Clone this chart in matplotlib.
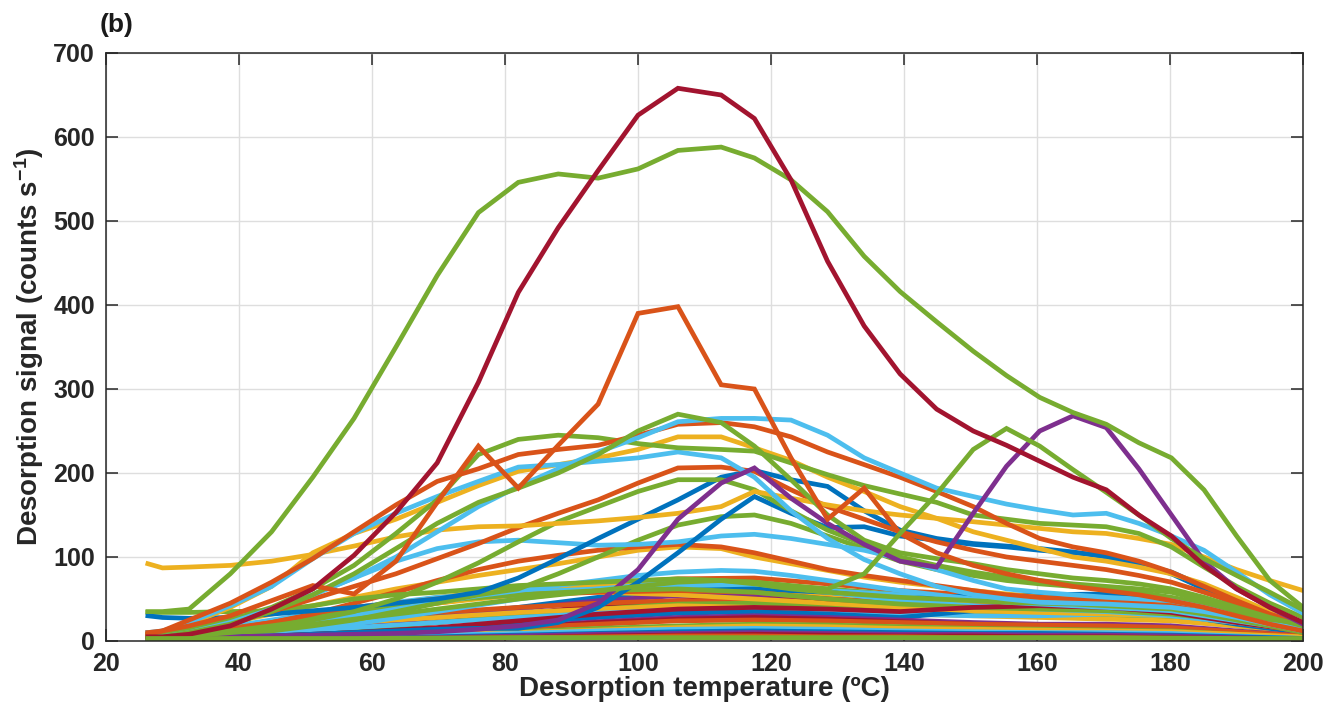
import matplotlib
matplotlib.use("Agg")
import matplotlib.pyplot as plt

plt.rcParams['font.family'] = ['Liberation Sans', 'DejaVu Sans']
plt.rcParams['font.weight'] = 'bold'
plt.rcParams['mathtext.fontset'] = 'custom'
plt.rcParams['mathtext.rm'] = 'Liberation Sans:bold'
plt.rcParams['mathtext.bf'] = 'Liberation Sans:bold'
plt.rcParams['mathtext.default'] = 'bf'

# MATLAB default colour order
BLUE = (0.000, 0.447, 0.741)
ORANGE = (0.850, 0.325, 0.098)
YELLOW = (0.929, 0.694, 0.125)
PURPLE = (0.494, 0.184, 0.556)
GREEN = (0.466, 0.674, 0.188)
LBLUE = (0.301, 0.745, 0.933)
DRED = (0.635, 0.078, 0.184)

# temperature grid of the main curves (deg C)
temp = [26.3, 28.5, 32.5, 38.7, 44.9, 51.1, 57.3, 63.6, 69.8, 76.0, 82.0,
        88.0, 94.0, 100.0, 106.0, 112.5, 117.5, 123.0, 128.5, 134.0, 139.4,
        144.9, 150.4, 155.4, 160.4, 165.4, 170.4, 175.3, 180.2, 185.1, 190.0,
        195.0, 200.0]

# coarser temperature grid of the small curves
temp_low = [26.3, 32.5, 44.9, 57.3, 69.8, 82.0, 94.0, 106.0, 117.5, 128.5,
            139.4, 150.4, 160.4, 170.4, 180.2, 190.0, 200.0]

# main curves (counts s^-1)
red_big = [5, 5, 8, 18, 38, 62, 102, 153, 212, 308, 415, 492, 560, 626, 658, 650, 622,
           549, 452, 375, 318, 276, 250, 233, 214, 195, 180, 150, 125, 90, 62, 40, 22]
green_big = [35, 35, 38, 80, 130, 195, 265, 350, 435, 510, 546, 556, 551, 562, 584, 588,
             575, 549, 511, 458, 416, 380, 345, 316, 290, 272, 258, 236, 218, 180, 125, 72, 40]
orange_zig = [10, 12, 18, 30, 48, 66, 56, 95, 165, 232, 182, 233, 282, 390, 398, 305, 300,
              218, 145, 182, 128, 105, 90, 80, 72, 65, 60, 55, 48, 40, 30, 20, 12]
purple_hi = [3, 3, 4, 5, 6, 7, 8, 9, 11, 14, 18, 25, 45, 85, 145, 188, 206, 170, 140, 115,
             95, 88, 152, 208, 250, 268, 254, 205, 150, 95, 62, 40, 20]
lblue_1 = [3, 5, 10, 22, 38, 55, 75, 100, 130, 160, 184, 205, 225, 242, 261, 265, 265, 263,
           245, 218, 200, 182, 172, 163, 156, 150, 152, 140, 125, 108, 82, 55, 33]
lblue_2 = [10, 12, 22, 42, 65, 98, 128, 152, 172, 190, 207, 210, 214, 218, 225, 218, 195,
           155, 122, 97, 80, 65, 55, 50, 46, 45, 44, 42, 40, 35, 28, 20, 15]
green_270 = [3, 5, 10, 20, 35, 55, 80, 110, 140, 165, 182, 200, 222, 250, 270, 260, 232,
             192, 150, 120, 105, 98, 92, 85, 80, 75, 72, 68, 62, 52, 40, 28, 18]
green_flat = [8, 10, 15, 25, 40, 62, 90, 128, 168, 222, 240, 245, 242, 235, 230, 228, 226,
              212, 198, 185, 175, 165, 150, 145, 140, 138, 136, 128, 112, 88, 65, 45, 28]
orange_260 = [8, 12, 25, 45, 70, 98, 130, 162, 190, 205, 222, 228, 233, 245, 258, 260, 255,
              243, 225, 210, 195, 178, 160, 140, 122, 112, 105, 95, 82, 65, 48, 32, 20]
yellow_245 = [5, 8, 20, 40, 65, 105, 128, 145, 165, 185, 202, 210, 218, 228, 243, 243, 230,
              215, 195, 178, 160, 146, 130, 120, 110, 100, 95, 88, 80, 68, 52, 35, 22]
yellow_flat = [92, 87, 88, 90, 95, 103, 113, 124, 132, 136, 137, 140, 143, 147, 152, 160,
               178, 170, 162, 155, 150, 146, 142, 138, 134, 130, 128, 122, 115, 100, 85, 72, 60]
blue_205 = [30, 28, 27, 28, 32, 36, 40, 45, 50, 58, 75, 98, 122, 145, 168, 195, 203, 192,
            184, 155, 132, 122, 116, 113, 110, 106, 100, 92, 82, 65, 45, 28, 15]
blue_172 = [3, 3, 4, 5, 6, 8, 10, 12, 14, 15, 15, 22, 40, 70, 105, 145, 172, 152, 135, 136,
            125, 120, 115, 112, 108, 105, 102, 92, 80, 62, 42, 25, 12]
green_35 = [34, 34, 34, 35, 36, 42, 50, 55, 58, 62, 66, 68, 70, 72, 74, 72, 68, 62, 58, 55,
            52, 50, 48, 46, 45, 44, 42, 40, 38, 32, 25, 18, 10]
lblue_120 = [5, 8, 15, 25, 38, 55, 75, 95, 110, 118, 120, 117, 114, 115, 118, 125, 127, 122,
             115, 108, 98, 85, 72, 62, 58, 55, 52, 50, 48, 40, 30, 20, 12]
orange_207 = [5, 7, 12, 22, 35, 50, 65, 80, 98, 116, 135, 152, 168, 188, 206, 207, 202, 180,
              160, 145, 130, 118, 108, 100, 95, 90, 85, 78, 70, 58, 45, 30, 18]
green_192 = [3, 5, 8, 12, 18, 25, 35, 50, 70, 93, 118, 142, 160, 178, 192, 192, 180, 155,
             132, 115, 100, 90, 82, 76, 72, 68, 65, 62, 58, 48, 35, 25, 15]
green_150 = [2, 3, 5, 8, 12, 18, 25, 35, 45, 55, 62, 80, 100, 120, 138, 148, 150, 140, 125,
             110, 95, 85, 78, 72, 68, 65, 62, 58, 52, 45, 35, 25, 15]
green_late = [3, 4, 6, 10, 14, 20, 26, 32, 38, 44, 50, 55, 60, 65, 70, 72, 70, 65, 62, 80,
              128, 175, 228, 253, 232, 204, 177, 150, 122, 98, 78, 58, 37]
orange_115 = [4, 5, 8, 14, 22, 32, 45, 58, 72, 85, 95, 102, 108, 112, 115, 112, 105, 95, 85,
              78, 72, 66, 60, 55, 52, 50, 48, 45, 42, 36, 28, 18, 10]
yellow_112 = [6, 8, 14, 22, 32, 42, 52, 62, 70, 78, 85, 92, 100, 108, 112, 110, 100, 92, 84,
              76, 70, 65, 60, 56, 52, 50, 48, 46, 42, 36, 28, 20, 12]
lblue_84 = [3, 4, 6, 10, 15, 22, 30, 38, 46, 54, 60, 66, 72, 78, 82, 84, 83, 78, 72, 66, 60,
            55, 50, 46, 44, 42, 40, 38, 36, 30, 24, 18, 12]

# small curves (coarser grid)
low_01 = [6, 9, 20, 32, 45, 58, 68, 74, 75, 68, 60, 55, 50, 47, 40, 28, 15]
low_02 = [4, 8, 18, 30, 46, 60, 68, 72, 70, 62, 55, 48, 45, 42, 38, 28, 16]
low_03 = [8, 12, 22, 35, 52, 62, 66, 68, 62, 55, 50, 46, 42, 40, 36, 26, 14]
low_04 = [5, 10, 25, 40, 52, 58, 62, 65, 64, 60, 55, 50, 46, 44, 40, 30, 18]
low_05 = [4, 6, 12, 20, 30, 40, 52, 60, 62, 58, 50, 54, 55, 56, 45, 30, 15]
low_06 = [3, 5, 10, 18, 28, 38, 48, 54, 55, 50, 45, 40, 38, 36, 30, 20, 10]
low_07 = [3, 4, 8, 14, 22, 32, 42, 48, 50, 46, 42, 38, 35, 32, 28, 20, 12]
low_08 = [10, 12, 18, 26, 34, 40, 45, 48, 47, 44, 40, 38, 36, 35, 32, 24, 14]
low_09 = [2, 4, 8, 14, 22, 30, 38, 44, 45, 42, 38, 34, 30, 28, 25, 18, 10]
low_10 = [5, 8, 15, 22, 28, 34, 38, 42, 40, 36, 32, 30, 28, 26, 24, 18, 10]
low_11 = [3, 5, 10, 16, 22, 28, 33, 37, 38, 35, 32, 30, 30, 32, 30, 22, 12]
low_12 = [2, 3, 6, 10, 15, 22, 28, 33, 35, 32, 28, 36, 42, 40, 32, 20, 10]
low_13 = [2, 3, 5, 8, 12, 17, 23, 28, 30, 28, 25, 22, 20, 20, 18, 12, 6]
low_14 = [1, 2, 4, 7, 11, 16, 22, 26, 28, 26, 23, 20, 18, 17, 15, 10, 5]
low_15 = [3, 4, 6, 9, 12, 16, 20, 24, 25, 24, 22, 20, 19, 18, 16, 11, 6]
low_16 = [1, 2, 3, 5, 8, 11, 15, 18, 20, 19, 17, 15, 14, 13, 12, 8, 4]
low_17 = [2, 3, 4, 6, 8, 10, 13, 16, 18, 17, 15, 14, 13, 12, 11, 8, 5]
low_18 = [1, 2, 3, 5, 7, 9, 12, 14, 15, 14, 12, 11, 10, 10, 9, 6, 3]
low_19 = [1, 1, 2, 3, 5, 7, 9, 11, 12, 11, 10, 9, 9, 8, 7, 5, 3]
low_20 = [1, 1, 2, 3, 4, 6, 8, 9, 10, 9, 8, 8, 7, 7, 6, 4, 2]
low_21 = [0.5, 1, 1.5, 2, 3, 4, 6, 7, 8, 7, 6, 6, 5, 5, 4, 3, 2]
low_22 = [1, 1, 1.5, 2, 3, 4, 5, 6, 6, 5, 5, 4, 4, 4, 3, 2, 1]
low_23 = [4, 6, 15, 28, 45, 55, 58, 55, 50, 45, 40, 36, 34, 32, 30, 22, 12]
low_24 = [5, 8, 22, 40, 50, 55, 58, 60, 58, 50, 45, 42, 40, 38, 34, 24, 12]
low_25 = [2, 4, 10, 20, 35, 50, 62, 70, 68, 58, 48, 42, 38, 35, 30, 22, 14]
low_26 = [6, 10, 20, 35, 48, 55, 60, 62, 58, 50, 44, 40, 38, 36, 32, 24, 15]
low_27 = [2, 3, 6, 10, 16, 24, 32, 38, 40, 38, 35, 40, 42, 40, 34, 22, 12]
low_28 = [3, 3, 3, 3, 3.5, 4, 4, 4, 4, 4, 4, 4, 4, 4, 3.5, 3, 3]

low_series = [
    (low_01, ORANGE), (low_02, GREEN), (low_03, YELLOW), (low_04, LBLUE),
    (low_05, BLUE), (low_06, PURPLE), (low_07, DRED), (low_08, ORANGE),
    (low_09, GREEN), (low_10, YELLOW), (low_11, LBLUE), (low_12, BLUE),
    (low_13, PURPLE), (low_14, DRED), (low_15, ORANGE), (low_16, GREEN),
    (low_17, YELLOW), (low_18, LBLUE), (low_19, BLUE), (low_20, PURPLE),
    (low_21, DRED), (low_22, ORANGE), (low_23, YELLOW), (low_24, ORANGE),
    (low_25, LBLUE), (low_26, GREEN), (low_27, DRED),
]

main_series = [
    (lblue_84, LBLUE), (yellow_112, YELLOW), (orange_115, ORANGE),
    (green_35, GREEN), (green_150, GREEN), (lblue_120, LBLUE),
    (blue_172, BLUE), (blue_205, BLUE), (green_192, GREEN),
    (orange_207, ORANGE), (yellow_flat, YELLOW), (yellow_245, YELLOW),
    (lblue_2, LBLUE), (green_flat, GREEN), (orange_260, ORANGE),
    (lblue_1, LBLUE), (green_270, GREEN), (purple_hi, PURPLE),
    (orange_zig, ORANGE), (green_late, GREEN), (green_big, GREEN),
    (red_big, DRED),
]

fig = plt.figure(figsize=(13.43, 7.22), dpi=100)
ax = fig.add_axes([0.0789, 0.1122, 0.8914, 0.8144])

LW = 3.4
for vals, col in low_series:
    ax.plot(temp_low, vals, color=col, lw=LW, solid_joinstyle='miter')
for vals, col in main_series:
    ax.plot(temp, vals, color=col, lw=LW, solid_joinstyle='miter')
ax.plot(temp_low, low_28, color=GREEN, lw=LW)

ax.set_xlim(20, 200)
ax.set_ylim(0, 700)
ax.set_xticks(range(20, 201, 20))
ax.set_yticks(range(0, 701, 100))
ax.grid(True, color='#dedede', lw=1.0)
ax.set_axisbelow(True)
ax.tick_params(direction='in', length=8.5, width=1.1, top=True, right=True,
               labelsize=18, colors='#262626')
ax.tick_params(axis='x', pad=8)
ax.tick_params(axis='y', pad=8)
for lab in ax.get_xticklabels() + ax.get_yticklabels():
    lab.set_fontweight('bold')
for sp in ax.spines.values():
    sp.set_color('#262626')
    sp.set_linewidth(1.1)

ax.set_xlabel('Desorption temperature (\u00baC)', fontsize=20, fontweight='bold',
              color='#262626', labelpad=0)
ax.set_ylabel(r'Desorption signal (counts s$^{-1}$)', fontsize=20, fontweight='bold',
              color='#262626', labelpad=5)
fig.text(0.074, 0.966, '(b)', fontsize=19, fontweight='bold', color='#1a1a1a',
         ha='left', va='center')

fig.savefig('out.png', dpi=100, facecolor='white')
